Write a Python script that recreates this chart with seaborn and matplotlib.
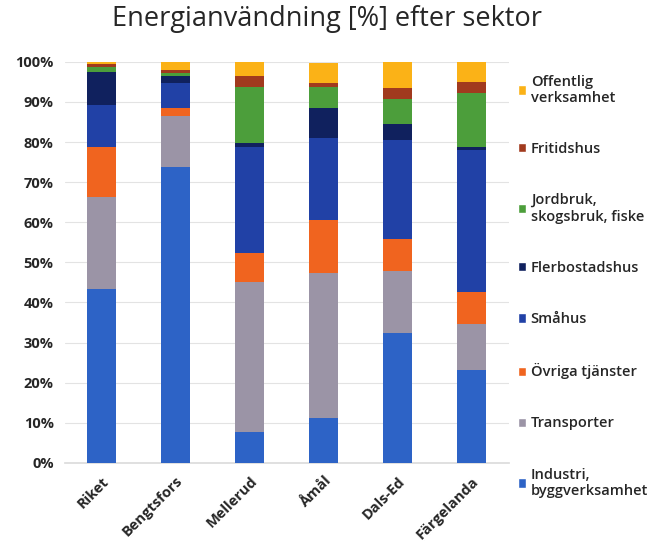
import numpy as np
import pandas as pd
import matplotlib
matplotlib.use("Agg")
import matplotlib.pyplot as plt
from matplotlib.patches import Patch
import seaborn as sns

# kommuner (x-axel)
places = ["Riket", "Bengtsfors", "Mellerud", "Åmål", "Dals-Ed", "Färgelanda"]

# sektorer, nedifrån och upp, andel i procent
industri = [43.3, 73.7, 7.8, 11.1, 32.3, 23.2]
transporter = [23.1, 12.8, 37.4, 36.3, 15.5, 11.4]
ovriga_tjanster = [12.3, 1.9, 7.1, 13.1, 8.0, 8.0]
smahus = [10.5, 6.2, 26.4, 20.4, 24.7, 35.5]
flerbostadshus = [8.3, 1.8, 1.0, 7.7, 4.0, 0.6]
jordbruk = [1.2, 0.9, 14.1, 5.1, 6.2, 13.4]
fritidshus = [0.8, 0.6, 2.7, 1.1, 2.7, 2.9]
offentlig = [0.5, 2.1, 3.4, 5.0, 6.5, 5.0]

sectors = ["Industri,\nbyggverksamhet", "Transporter", "Övriga tjänster", "Småhus",
           "Flerbostadshus", "Jordbruk,\nskogsbruk, fiske", "Fritidshus",
           "Offentlig\nverksamhet"]
colors = ["#2d63c6", "#9b94a6", "#f0641f", "#2141a6",
          "#10215e", "#4c9e3b", "#a13a1e", "#fbb217"]

values = [industri, transporter, ovriga_tjanster, smahus,
          flerbostadshus, jordbruk, fritidshus, offentlig]
cum = np.cumsum(np.array(values), axis=0)

sns.set_theme(style="white")
plt.rcParams["font.family"] = ["Open Sans", "DejaVu Sans"]

fig = plt.figure(figsize=(6.54, 5.42), dpi=100)
ax = fig.add_axes([0.099, 0.146, 0.679, 0.740])

# rita kumulativa staplar uppifrån och ned så att de överlappar rätt
for i in range(len(sectors) - 1, -1, -1):
    df = pd.DataFrame({"plats": places, "kum": cum[i]})
    sns.barplot(data=df, x="plats", y="kum", color=colors[i], width=0.39,
                saturation=1, linewidth=0, ax=ax, zorder=3)

ax.set_ylim(0, 100)
ax.set_yticks(np.arange(0, 101, 10))
ax.set_yticklabels([f"{v}%" for v in range(0, 101, 10)], fontsize=10.5, fontweight="bold")
ax.set_xticks(range(len(places)))
ax.set_xticklabels(places, rotation=45, ha="right", rotation_mode="anchor",
                   fontsize=10.5, fontweight="bold")
ax.tick_params(axis="x", pad=2)
ax.tick_params(axis="y", pad=2)
ax.set_xlabel("")
ax.set_ylabel("")
ax.grid(axis="y", color="#e3e3e3", linewidth=0.8, zorder=0)
for s in ax.spines.values():
    s.set_visible(False)
ax.spines["bottom"].set_visible(True)
ax.spines["bottom"].set_color("#dcdcdc")

fig.suptitle("Energianvändning [%] efter sektor", fontsize=19.5, y=0.99, x=0.5)

handles = [Patch(facecolor=c, label=l) for c, l in zip(colors, sectors)]
leg = ax.legend(handles=handles[::-1], loc="upper left", bbox_to_anchor=(1.0, 0.99),
                frameon=False, fontsize=10.5, handlelength=0.6, handleheight=0.6,
                handletextpad=0.3, labelspacing=2.55, borderaxespad=0.2)
for t in leg.get_texts():
    t.set_fontweight("semibold")

fig.savefig("out.png", dpi=100)
